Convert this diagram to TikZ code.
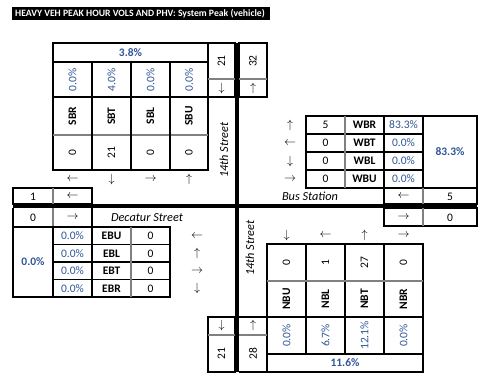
\documentclass[tikz,border=0pt]{standalone}
\usepackage{fontspec}
\setmainfont{Carlito}
\definecolor{pblue}{RGB}{47,85,151}
\definecolor{lgray}{RGB}{128,128,128}
\newcommand{\La}{\(\leftarrow\)}
\newcommand{\Ra}{\(\rightarrow\)}
\newcommand{\Ua}{\(\uparrow\)}
\newcommand{\Da}{\(\downarrow\)}
\newcommand{\cellfont}{\fontsize{11.5}{13}\selectfont}
\begin{document}
\begin{tikzpicture}[x=1pt,y=-1pt,
  bk/.style={draw=black,line width=1.7pt},
  gr/.style={draw=lgray,line width=1.4pt},
  street/.style={draw=black,line width=4.5pt},
  txt/.style={inner sep=0pt,font=\cellfont},
  nm/.style={txt,font=\cellfont\bfseries},
  pc/.style={txt,text=pblue},
  bpc/.style={txt,text=pblue,font=\cellfont\bfseries},
  it/.style={txt,font=\fontsize{12.3}{14}\selectfont\itshape},
  rot/.style={rotate=90}]
\useasboundingbox (0,0) rectangle (482,381);
% title
\fill[black] (12,7) rectangle (270,20);
\node[inner sep=0pt,text=white,anchor=west,font=\fontsize{9.7}{11}\selectfont\bfseries] (title) at (15,13.8) {HEAVY VEH PEAK HOUR VOLS AND PHV: System Peak (vehicle)};

% ---------- SB table ----------
\draw[bk] (53,43) rectangle (208,170);
\draw[bk] (53,62) -- (208,62);
\draw[bk] (53,97) -- (208,97);
\draw[gr] (53,135) -- (208,135);
\foreach \x in {92,131,170} \draw[bk] (\x,62) -- (\x,170);
\node[bpc] (sbtot) at (130.5,52.5) {3.8\%};
\node[pc,rot] (sbrp) at (72.5,80) {0.0\%};
\node[pc,rot] (sbtp) at (111.5,80) {4.0\%};
\node[pc,rot] (sblp) at (150.5,80) {0.0\%};
\node[pc,rot] (sbup) at (189,80) {0.0\%};
\node[nm,rot] (sbrn) at (72.5,116) {SBR};
\node[nm,rot] (sbtn) at (111.5,116) {SBT};
\node[nm,rot] (sbln) at (150.5,116) {SBL};
\node[nm,rot] (sbun) at (189,116) {SBU};
\node[txt,rot] (sbrv) at (72.5,152.5) {0};
\node[txt,rot] (sbtv) at (111.5,152.5) {21};
\node[txt,rot] (sblv) at (150.5,152.5) {0};
\node[txt,rot] (sbuv) at (189,152.5) {0};
\node[txt] (sbra) at (72.5,179) {\La};
\node[txt] (sbta) at (111.5,179) {\Da};
\node[txt] (sbla) at (150.5,179) {\Ra};
\node[txt] (sbua) at (189,179) {\Ua};

% top small boxes
\draw[bk] (208,43) rectangle (235,97);
\draw[gr] (208,79) -- (235,79);
\draw[bk] (239,43) rectangle (267,97);
\draw[gr] (239,79) -- (267,79);
\node[txt,rot] (tin) at (221.5,61) {21};
\node[txt] (tina) at (221.5,88) {\Da};
\node[txt,rot] (tout) at (253,61) {32};
\node[txt] (touta) at (253,88) {\Ua};

% streets
\draw[street] (237,43) -- (237,372);
\draw[street] (13,206) -- (477,206);
\node[it,rot] (st1) at (224,150) {14th Street};
\node[it,rot] (st2) at (250,248) {14th Street};
\node[it] (dec) at (147,217.5) {Decatur Street};
\node[it] (bus) at (310,196) {Bus Station};

% ---------- left boxes ----------
\draw[bk] (13,188) rectangle (92,204);
\draw[gr] (53,188) -- (53,204);
\node[txt] (win) at (33,196.5) {1};
\node[txt] (wina) at (72.5,196.5) {\La};
\draw[bk] (13,208) -- (13,297);
\draw[bk] (92,208) -- (92,227);
\draw[gr] (53,208) -- (53,227);
\node[txt] (wout) at (33,217.5) {0};
\node[txt] (wouta) at (72.5,217.5) {\Ra};

% ---------- EB table ----------
\draw[bk] (13,227) rectangle (170,297);
\foreach \y in {244.5,262,279.5} \draw[bk] (53,\y) -- (170,\y);
\draw[bk] (53,227) -- (53,297);
\draw[bk] (92,227) -- (92,297);
\draw[gr] (131,227) -- (131,297);
\node[bpc] (ebtot) at (33,262) {0.0\%};
\node[pc] (ebup) at (72.5,236) {0.0\%};
\node[pc] (eblp) at (72.5,253.5) {0.0\%};
\node[pc] (ebtp) at (72.5,271) {0.0\%};
\node[pc] (ebrp) at (72.5,288.5) {0.0\%};
\node[nm] (ebun) at (111.5,236) {EBU};
\node[nm] (ebln) at (111.5,253.5) {EBL};
\node[nm] (ebtn) at (111.5,271) {EBT};
\node[nm] (ebrn) at (111.5,288.5) {EBR};
\node[txt] (ebuv) at (150.5,236) {0};
\node[txt] (eblv) at (150.5,253.5) {0};
\node[txt] (ebtv) at (150.5,271) {0};
\node[txt] (ebrv) at (150.5,288.5) {0};
\node[txt] (ebua) at (197,236) {\La};
\node[txt] (ebla) at (197,253.5) {\Ua};
\node[txt] (ebta) at (197,271) {\Ra};
\node[txt] (ebra) at (197,288.5) {\Da};

% ---------- WB table ----------
\draw[bk] (306,116) rectangle (477,188);
\foreach \y in {134,152,170} \draw[bk] (306,\y) -- (423,\y);
\draw[gr] (345,116) -- (345,188);
\draw[bk] (384,116) -- (384,188);
\draw[bk] (423,116) -- (423,188);
\node[txt] (wbra) at (290,125) {\Ua};
\node[txt] (wbta) at (290,143) {\La};
\node[txt] (wbla) at (290,161) {\Da};
\node[txt] (wbua) at (290,179) {\Ra};
\node[txt] (wbrv) at (325.5,125) {5};
\node[txt] (wbtv) at (325.5,143) {0};
\node[txt] (wblv) at (325.5,161) {0};
\node[txt] (wbuv) at (325.5,179) {0};
\node[nm] (wbrn) at (364.5,125) {WBR};
\node[nm] (wbtn) at (364.5,143) {WBT};
\node[nm] (wbln) at (364.5,161) {WBL};
\node[nm] (wbun) at (364.5,179) {WBU};
\node[pc] (wbrp) at (403.5,125) {83.3\%};
\node[pc] (wbtp) at (403.5,143) {0.0\%};
\node[pc] (wblp) at (403.5,161) {0.0\%};
\node[pc] (wbup) at (403.5,179) {0.0\%};
\node[bpc] (wbtot) at (450,152) {83.3\%};

% right boxes
\draw[bk] (384,188) rectangle (477,204);
\draw[gr] (423,188) -- (423,204);
\node[txt] (eouta) at (403.5,196.5) {\La};
\node[txt] (eout) at (450,196.5) {5};
\draw[bk] (384,208) rectangle (477,226);
\draw[gr] (423,208) -- (423,226);
\node[txt] (eina) at (403.5,217.5) {\Ra};
\node[txt] (ein) at (450,217.5) {0};

% ---------- NB table ----------
\draw[bk] (267,244) rectangle (423,372);
\foreach \x in {306,345,384} \draw[bk] (\x,244) -- (\x,354);
\draw[gr] (267,281) -- (423,281);
\draw[bk] (267,317) -- (423,317);
\draw[bk] (267,354) -- (423,354);
\node[txt] (nbua) at (286.5,235) {\Da};
\node[txt] (nbla) at (325.5,235) {\La};
\node[txt] (nbta) at (364.5,235) {\Ua};
\node[txt] (nbra) at (403.5,235) {\Ra};
\node[txt,rot] (nbuv) at (286.5,262.5) {0};
\node[txt,rot] (nblv) at (325.5,262.5) {1};
\node[txt,rot] (nbtv) at (364.5,262.5) {27};
\node[txt,rot] (nbrv) at (403.5,262.5) {0};
\node[nm,rot] (nbun) at (286.5,299) {NBU};
\node[nm,rot] (nbln) at (325.5,299) {NBL};
\node[nm,rot] (nbtn) at (364.5,299) {NBT};
\node[nm,rot] (nbrn) at (403.5,299) {NBR};
\node[pc,rot] (nbup) at (286.5,335.5) {0.0\%};
\node[pc,rot] (nblp) at (325.5,335.5) {6.7\%};
\node[pc,rot] (nbtp) at (364.5,335.5) {12.1\%};
\node[pc,rot] (nbrp) at (403.5,335.5) {0.0\%};
\node[bpc] (nbtot) at (345,363) {11.6\%};

% bottom small boxes
\draw[bk] (208,317) rectangle (235,372);
\draw[gr] (208,335) -- (235,335);
\draw[bk] (239,317) -- (267,317);
\draw[bk] (239,372) -- (267,372);
\draw[gr] (239,335) -- (267,335);
\node[txt] (souta) at (221.5,325.5) {\Da};
\node[txt,rot] (sout) at (221.5,353.5) {21};
\node[txt] (sina) at (253,325.5) {\Ua};
\node[txt,rot] (sin) at (253,353.5) {28};
\end{tikzpicture}
\end{document}
